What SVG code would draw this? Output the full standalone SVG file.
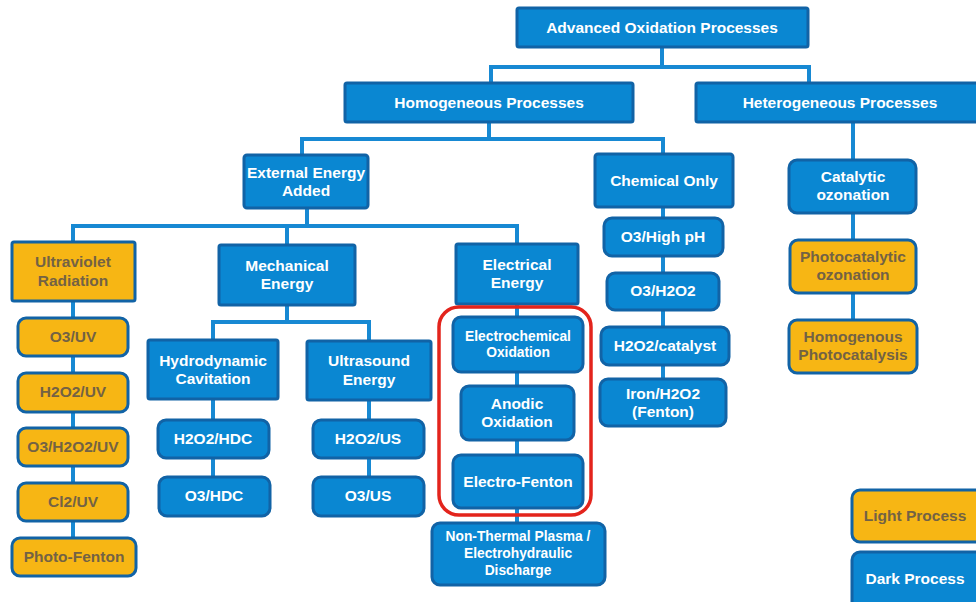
<svg xmlns="http://www.w3.org/2000/svg" width="976" height="602" viewBox="0 0 976 602">
<style>
.b{fill:#0a87d2;stroke:#1163a6;stroke-width:3}
.y{fill:#f7b614;stroke:#1163a6;stroke-width:3}
.t{font-family:"Liberation Sans",Arial,sans-serif;font-weight:bold;font-size:15.5px;fill:#ffffff;text-anchor:middle}
.s{font-size:13.8px}
.ty{fill:#736244}
.c{fill:none;stroke:#1789d3;stroke-width:4}
</style>
<rect width="976" height="602" fill="#ffffff"/>
<g id="connectors">
<path class="c" d="M662 47V67M491 83V67H809V83"/>
<path class="c" d="M489 122V139M302 155V139H663V154"/>
<path class="c" d="M307 208V226M73 242V226H517V244M287 226V245"/>
<path class="c" d="M73 301V538"/>
<path class="c" d="M287 305V322M213 340V322H369V341"/>
<path class="c" d="M213 399V477M369 400V477"/>
<path class="c" d="M517 304V523"/>
<path class="c" d="M663 207V379"/>
<path class="c" d="M853 122V160M853 213V320"/>
</g>
<g id="root"><rect class="b" x="517" y="8" width="291" height="39" rx="2"/><text class="t" x="662" y="33">Advanced Oxidation Processes</text></g>
<g id="homogeneous"><rect class="b" x="345" y="83" width="288" height="39" rx="2"/><text class="t" x="489" y="108">Homogeneous Processes</text></g>
<g id="heterogeneous"><rect class="b" x="696" y="83" width="292" height="39" rx="2"/><text class="t" x="840" y="108">Heterogeneous Processes</text></g>
<g id="external"><rect class="b" x="244" y="155" width="124" height="53" rx="3"/><text class="t" x="306" y="178">External Energy</text><text class="t" x="306" y="196">Added</text></g>
<g id="chemical"><rect class="b" x="595" y="154" width="138" height="53" rx="3"/><text class="t" x="664" y="186">Chemical Only</text></g>
<g id="catalytic"><rect class="b" x="789" y="160" width="127" height="53" rx="8"/><text class="t" x="853" y="182">Catalytic</text><text class="t" x="853" y="200">ozonation</text></g>
<g id="uv"><rect class="y" x="12" y="242" width="123" height="59" rx="2"/><text class="t ty" x="73" y="267">Ultraviolet</text><text class="t ty" x="73" y="286">Radiation</text></g>
<g id="mechanical"><rect class="b" x="219" y="245" width="136" height="60" rx="2"/><text class="t" x="287" y="271">Mechanical</text><text class="t" x="287" y="289">Energy</text></g>
<g id="electrical"><rect class="b" x="456" y="244" width="122" height="60" rx="2"/><text class="t" x="517" y="270">Electrical</text><text class="t" x="517" y="288">Energy</text></g>
<g id="o3uv"><rect class="y" x="18" y="318" width="110" height="38" rx="8"/><text class="t ty" x="73" y="342">O3/UV</text></g>
<g id="h2o2uv"><rect class="y" x="18" y="373" width="110" height="39" rx="8"/><text class="t ty" x="73" y="397">H2O2/UV</text></g>
<g id="o3h2o2uv"><rect class="y" x="18" y="428" width="110" height="38" rx="8"/><text class="t ty" x="73" y="452">O3/H2O2/UV</text></g>
<g id="cl2uv"><rect class="y" x="18" y="483" width="110" height="38" rx="8"/><text class="t ty" x="73" y="507">Cl2/UV</text></g>
<g id="photofenton"><rect class="y" x="12" y="538" width="124" height="38" rx="8"/><text class="t ty" x="74" y="562">Photo-Fenton</text></g>
<g id="hydro"><rect class="b" x="148" y="340" width="130" height="59" rx="2"/><text class="t" x="213" y="366">Hydrodynamic</text><text class="t" x="213" y="384">Cavitation</text></g>
<g id="ultrasound"><rect class="b" x="307" y="341" width="124" height="59" rx="2"/><text class="t" x="369" y="366">Ultrasound</text><text class="t" x="369" y="385">Energy</text></g>
<g id="h2o2hdc"><rect class="b" x="158" y="420" width="111" height="38" rx="8"/><text class="t" x="213" y="444">H2O2/HDC</text></g>
<g id="o3hdc"><rect class="b" x="159" y="477" width="111" height="39" rx="8"/><text class="t" x="214" y="501">O3/HDC</text></g>
<g id="h2o2us"><rect class="b" x="313" y="420" width="111" height="38" rx="8"/><text class="t" x="368" y="444">H2O2/US</text></g>
<g id="o3us"><rect class="b" x="313" y="477" width="111" height="39" rx="8"/><text class="t" x="368" y="501">O3/US</text></g>
<g id="highlight"><rect x="439" y="307" width="152" height="208" rx="20" fill="none" stroke="#e3241c" stroke-width="3.5"/></g>
<g id="electrochem"><rect class="b" x="453" y="317" width="130" height="55" rx="8"/><text class="t s" x="518" y="341">Electrochemical</text><text class="t s" x="518" y="357">Oxidation</text></g>
<g id="anodic"><rect class="b" x="461" y="386" width="113" height="54" rx="8"/><text class="t" x="517" y="409">Anodic</text><text class="t" x="517" y="427">Oxidation</text></g>
<g id="electrofenton"><rect class="b" x="453" y="455" width="130" height="53" rx="8"/><text class="t" x="518" y="487">Electro-Fenton</text></g>
<g id="plasma"><rect class="b" x="432" y="523" width="173" height="62" rx="8"/><text class="t s" x="518" y="541">Non-Thermal Plasma /</text><text class="t s" x="518" y="558">Electrohydraulic</text><text class="t s" x="518" y="575">Discharge</text></g>
<g id="o3highph"><rect class="b" x="604" y="218" width="119" height="38" rx="8"/><text class="t" x="663" y="242">O3/High pH</text></g>
<g id="o3h2o2"><rect class="b" x="607" y="273" width="112" height="37" rx="8"/><text class="t" x="663" y="296">O3/H2O2</text></g>
<g id="h2o2cat"><rect class="b" x="601" y="327" width="128" height="38" rx="8"/><text class="t" x="665" y="351">H2O2/catalyst</text></g>
<g id="fenton"><rect class="b" x="600" y="379" width="126" height="47" rx="8"/><text class="t" x="663" y="399">Iron/H2O2</text><text class="t" x="663" y="417">(Fenton)</text></g>
<g id="photocatoz"><rect class="y" x="790" y="240" width="126" height="53" rx="8"/><text class="t ty" x="853" y="262">Photocatalytic</text><text class="t ty" x="853" y="280">ozonation</text></g>
<g id="homphotocat"><rect class="y" x="789" y="320" width="128" height="53" rx="8"/><text class="t ty" x="853" y="342">Homogenous</text><text class="t ty" x="853" y="360">Photocatalysis</text></g>
<g id="legend-light"><rect class="y" x="852" y="490" width="132" height="52" rx="8"/><text class="t ty" x="915" y="521">Light Process</text></g>
<g id="legend-dark"><rect class="b" x="852" y="552" width="132" height="60" rx="8"/><text class="t" x="915" y="584">Dark Process</text></g>
</svg>
